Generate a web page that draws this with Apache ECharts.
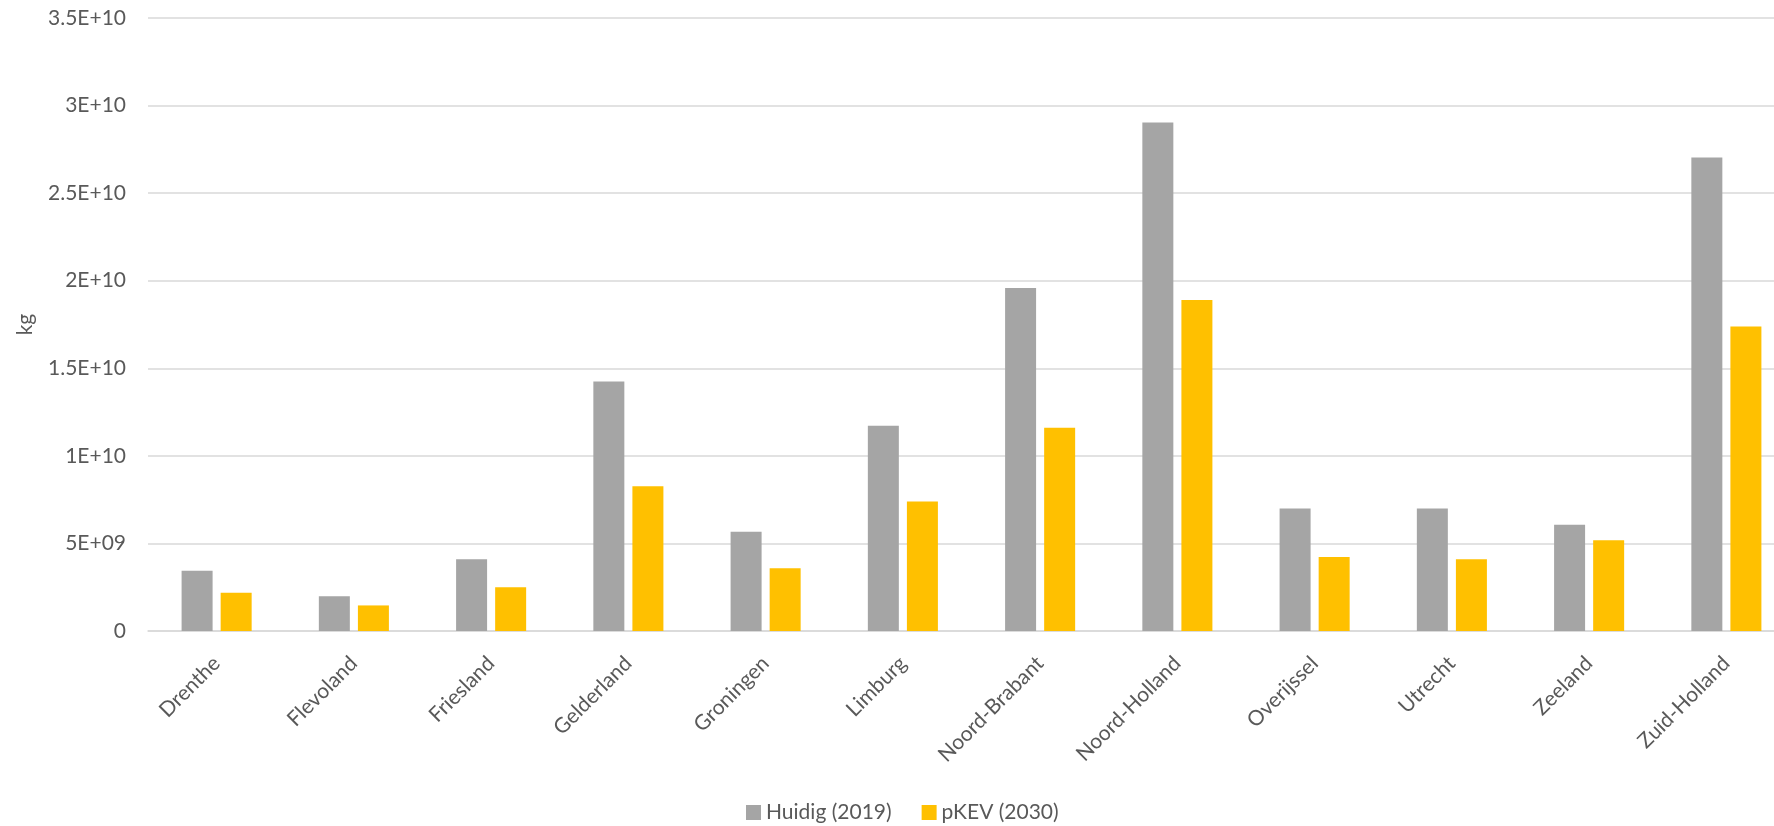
<!DOCTYPE html>
<html>
<head>
<meta charset="utf-8">
<style>
  html, body { margin: 0; padding: 0; background: #ffffff; overflow: hidden; }
  #chart { width: 1774px; height: 826px; }
</style>
<script src="https://cdn.jsdelivr.net/npm/echarts@6/dist/echarts.min.js"></script>
</head>
<body>
<div id="chart"></div>
<script>
// Provinces on the category axis
const provinces = ['Drenthe', 'Flevoland', 'Friesland', 'Gelderland', 'Groningen', 'Limburg',
  'Noord-Brabant', 'Noord-Holland', 'Overijssel', 'Utrecht', 'Zeeland', 'Zuid-Holland'];

// Mass per province (kg)
const huidig2019 = [3.44e9, 1.98e9, 4.1e9, 14.24e9, 5.66e9, 11.72e9, 19.58e9, 29.04e9, 7.0e9, 7.0e9, 6.06e9, 27.04e9];
const pkev2030 = [2.18e9, 1.46e9, 2.5e9, 8.26e9, 3.58e9, 7.4e9, 11.6e9, 18.9e9, 4.22e9, 4.1e9, 5.18e9, 17.38e9];

// Y axis tick labels in Excel-style scientific notation
const yTickLabels = {0: '0', 5e9: '5E+09', 1e10: '1E+10', 1.5e10: '1.5E+10', 2e10: '2E+10',
  2.5e10: '2.5E+10', 3e10: '3E+10', 3.5e10: '3.5E+10'};

const seriesNames = ['Huidig (2019)', 'pKEV (2030)'];

const textColor = '#595959';
const fontFamily = 'Lato';
const fontSize = 21;

const chart = echarts.init(document.getElementById('chart'), null, { renderer: 'canvas' });

chart.setOption({
  animation: false,
  backgroundColor: '#ffffff',
  textStyle: { fontFamily: fontFamily, color: textColor },
  // the plot area runs slightly past the right edge of the canvas
  grid: { left: 148, width: 1647, top: 18, bottom: 195, containLabel: false, outerBoundsMode: 'none' },
  legend: {
    data: seriesNames,
    top: 797,
    left: 741,
    itemWidth: 15,
    itemHeight: 15,
    itemGap: 30,
    icon: 'rect',
    textStyle: { color: textColor, fontSize: fontSize, fontFamily: fontFamily }
  },
  xAxis: {
    type: 'category',
    data: provinces,
    axisLine: { show: true, lineStyle: { color: '#d9d9d9', width: 1.5 } },
    axisTick: { show: false },
    axisLabel: {
      rotate: 45,
      interval: 0,
      margin: 29,
      color: textColor,
      fontSize: fontSize,
      fontFamily: fontFamily
    }
  },
  yAxis: {
    type: 'value',
    min: 0,
    max: 3.5e10,
    interval: 5e9,
    name: 'kg',
    nameLocation: 'middle',
    nameGap: 112,
    nameRotate: 90,
    nameTextStyle: { color: textColor, fontSize: fontSize, fontFamily: fontFamily },
    axisLine: { show: false },
    axisTick: { show: false },
    splitLine: { lineStyle: { color: '#d9d9d9', width: 1.5 } },
    axisLabel: {
      margin: 22,
      color: textColor,
      fontSize: fontSize,
      fontFamily: fontFamily,
      formatter: v => yTickLabels[v] !== undefined ? yTickLabels[v] : String(v)
    }
  },
  series: [
    {
      name: seriesNames[0],
      type: 'bar',
      data: huidig2019,
      barWidth: 31,
      barGap: '26%',
      itemStyle: { color: '#a5a5a5' }
    },
    {
      name: seriesNames[1],
      type: 'bar',
      data: pkev2030,
      barWidth: 31,
      barGap: '26%',
      itemStyle: { color: '#ffc000' }
    }
  ]
});
</script>
</body>
</html>
